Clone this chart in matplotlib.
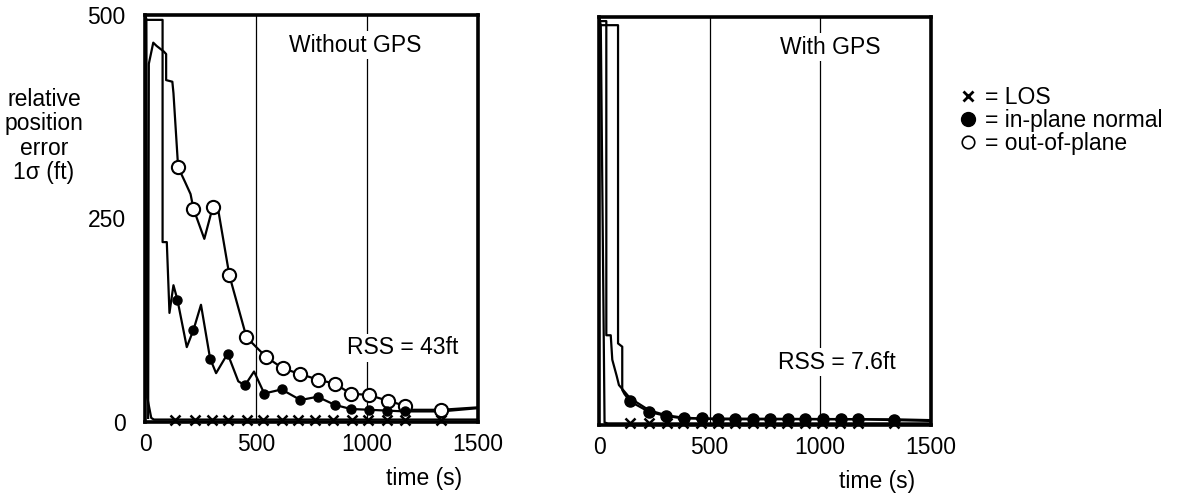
import matplotlib.pyplot as plt
from matplotlib.lines import Line2D

plt.rcParams['font.family'] = ['Liberation Sans', 'DejaVu Sans']

# ---------------- Without GPS (left panel) ----------------
# LOS
los_t_wo = [0, 6, 10, 28, 40, 1500]
los_y_wo = [500, 495, 30, 5, 3, 3]
los_mt_wo = [135, 225, 300, 375, 458, 533, 616, 691, 766, 848, 931, 1006, 1088, 1170, 1335]
los_my_wo = [3, 3, 3, 3, 3, 3, 3, 3, 3, 3, 3, 3, 3, 3, 3]

# in-plane normal
inp_t_wo = [0, 79, 79, 98, 110, 128, 146, 188, 218, 252, 293, 320, 372, 420, 450,
            491, 537, 615, 700, 777, 855, 927, 1010, 1088, 1170, 1335, 1500]
inp_y_wo = [494, 494, 221, 221, 134, 168, 150, 92, 113, 144, 78, 60, 84, 50, 45,
            62, 35, 40, 27, 31, 21, 16, 15, 14, 13, 13, 17]
inp_mt_wo = [146, 218, 293, 372, 450, 537, 615, 700, 777, 855, 927, 1010, 1088, 1170]
inp_my_wo = [150, 113, 78, 84, 45, 35, 40, 27, 31, 21, 16, 15, 14, 13]

# out-of-plane
out_t_wo = [14, 17, 37, 52, 85, 95, 95, 123, 128, 149, 180, 205, 218, 267, 305, 330,
            380, 457, 545, 620, 697, 780, 855, 926, 1010, 1095, 1170, 1190, 1335, 1500]
out_y_wo = [5, 440, 466, 462, 455, 452, 420, 418, 404, 313, 295, 280, 262, 225, 264, 260,
            180, 104, 80, 66, 59, 52, 47, 35, 33, 26, 20, 15, 15, 18]
out_mt_wo = [149, 218, 305, 380, 457, 545, 620, 697, 780, 855, 926, 1010, 1095, 1170, 1335]
out_my_wo = [313, 262, 264, 180, 104, 80, 66, 59, 52, 47, 35, 33, 26, 20, 15]

# ---------------- With GPS (right panel) ----------------
los_t_w = [0, 8, 25, 40, 1500]
los_y_w = [500, 490, 3, 2, 2]
los_mt_w = [140, 227, 306, 380, 460, 537, 616, 695, 773, 852, 930, 1010, 1090, 1170, 1335]
los_my_w = [2, 2, 2, 2, 2, 2, 2, 2, 2, 2, 2, 2, 2, 2, 2]

inp_t_w = [0, 86, 86, 105, 105, 115, 140, 227, 305, 382, 464, 537, 615, 695, 773,
           855, 930, 1013, 1095, 1170, 1335, 1500]
inp_y_w = [490, 490, 100, 96, 43, 38, 29, 16, 11, 8, 8, 7, 7, 7, 7,
           7, 7, 7, 7, 7, 6, 5]
inp_mt_w = [140, 227, 305, 382, 464, 537, 615, 695, 773, 855, 930, 1013, 1095, 1170, 1335]
inp_my_w = [29, 16, 11, 8, 8, 7, 7, 7, 7, 7, 7, 7, 7, 7, 6]

out_t_w = [0, 33, 33, 53, 60, 80, 90, 140, 227, 303, 381, 464, 1335, 1500]
out_y_w = [495, 495, 110, 110, 80, 60, 49, 33, 18, 12, 9, 8, 7, 6]

x_ticks = [0, 500, 1000, 1500]
y_ticks = [0, 250, 500]

fig = plt.figure(figsize=(11.85, 4.96), dpi=100)
ax1 = fig.add_axes([0.1224, 0.1492, 0.2810, 0.8206])
ax2 = fig.add_axes([0.5055, 0.1431, 0.2800, 0.8226])

FS = 16.5


def setup(ax):
    ax.set_xlim(0, 1500)
    ax.set_ylim(0, 500)
    for s in ax.spines.values():
        s.set_linewidth(2.6)
    ax.set_xticks(x_ticks)
    ax.set_xticklabels([str(v) for v in x_ticks], fontsize=FS)
    ax.tick_params(length=0, pad=8)
    # thin reference lines
    for xv in [500, 1000]:
        ax.axvline(xv, color="black", linewidth=0.9, zorder=1)
    ax.text(1.0 - 0.048, -0.138, "time (s)", transform=ax.transAxes,
            ha="right", va="center", fontsize=FS)


setup(ax1)
setup(ax2)
ax1.set_yticks(y_ticks)
ax1.set_yticklabels([str(v) for v in y_ticks], fontsize=FS)
ax1.tick_params(axis="y", pad=14)
ax2.set_yticks([])

lw = 1.6
# left panel curves
ax1.plot(los_t_wo, los_y_wo, color="black", linewidth=lw, zorder=3)
ax1.plot(inp_t_wo, inp_y_wo, color="black", linewidth=lw, zorder=3)
ax1.plot(out_t_wo, out_y_wo, color="black", linewidth=lw, zorder=3)
ax1.plot(los_mt_wo, los_my_wo, linestyle="none", marker="x", color="black",
         markersize=7.5, markeredgewidth=1.8, zorder=4, clip_on=False)
ax1.plot(inp_mt_wo, inp_my_wo, linestyle="none", marker="o", color="black",
         markersize=6.5, zorder=5)
ax1.plot(out_mt_wo, out_my_wo, linestyle="none", marker="o", markerfacecolor="white",
         markeredgecolor="black", markersize=9.5, markeredgewidth=1.5, zorder=4)

# right panel curves
ax2.plot(los_t_w, los_y_w, color="black", linewidth=lw, zorder=3)
ax2.plot(inp_t_w, inp_y_w, color="black", linewidth=lw, zorder=3)
ax2.plot(out_t_w, out_y_w, color="black", linewidth=lw, zorder=3)
ax2.plot(los_mt_w, los_my_w, linestyle="none", marker="x", color="black",
         markersize=7.5, markeredgewidth=1.8, zorder=4, clip_on=False)
ax2.plot(inp_mt_w, inp_my_w, linestyle="none", marker="o", color="black",
         markersize=8, zorder=5)

# panel annotations (white box hides the reference line behind)
box = dict(facecolor="white", edgecolor="none", pad=2)
ax1.text(945, 463, "Without GPS", ha="center", va="center", fontsize=FS, bbox=box, zorder=2)
ax1.text(1160, 91, "RSS = 43ft", ha="center", va="center", fontsize=FS, bbox=box, zorder=2)
ax2.text(1044, 463, "With GPS", ha="center", va="center", fontsize=FS, bbox=box, zorder=2)
ax2.text(1076, 77, "RSS = 7.6ft", ha="center", va="center", fontsize=FS, bbox=box, zorder=2)

# y label
fig.text(44 / 1185, 1 - 136 / 496, "relative\nposition\nerror\n1σ (ft)",
         ha="center", va="center", fontsize=FS, linespacing=1.08)

# legend
handles = [
    Line2D([], [], linestyle="none", marker="x", color="black", markersize=7, markeredgewidth=2),
    Line2D([], [], linestyle="none", marker="o", color="black", markersize=10),
    Line2D([], [], linestyle="none", marker="o", markerfacecolor="white",
           markeredgecolor="black", markersize=9, markeredgewidth=1.2),
]
labels = ["= LOS", "= in-plane normal", "= out-of-plane"]
fig.legend(handles, labels, loc="upper left", bbox_to_anchor=(960 / 1185, 1 - 86 / 496),
           frameon=False, fontsize=FS, handlelength=0.7, handletextpad=0.4,
           labelspacing=0.0, borderpad=0, borderaxespad=0)

plt.savefig("out.png", dpi=100)
